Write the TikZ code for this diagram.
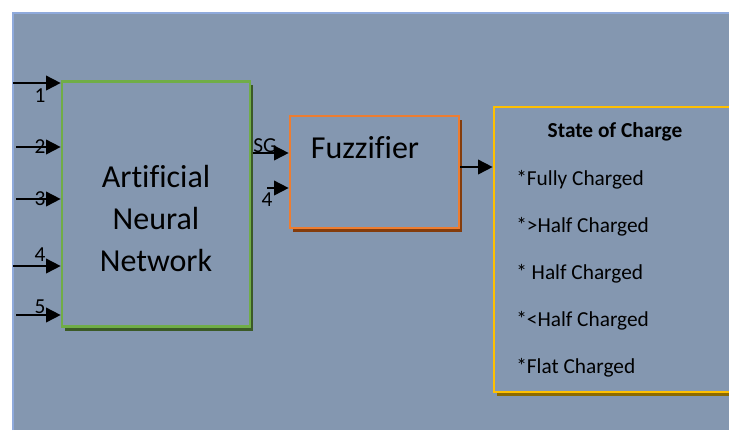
\documentclass[tikz,border=0pt]{standalone}
\usepackage{fontspec}
\setmainfont{Carlito}[Ligatures=NoCommon]
\usetikzlibrary{arrows.meta,shadows}

\definecolor{slate}{HTML}{8497B0}
\definecolor{edgeblue}{HTML}{8FAADC}
\definecolor{annline}{HTML}{70AD47}
\definecolor{anndark}{HTML}{3B5A26}
\definecolor{fuzzline}{HTML}{ED7D31}
\definecolor{fuzzdark}{HTML}{843C0C}
\definecolor{socline}{HTML}{FFC000}
\definecolor{socdark}{HTML}{8C6A00}

\tikzset{
  block/.style={draw,line width=2pt,fill=slate,inner sep=0pt},
  feed/.style={line width=1.3pt,-{Triangle[length=11pt,width=11pt]}},
  num/.style={font=\fontsize{16}{16}\selectfont,inner sep=0pt},
  bigtext/.style={font=\fontsize{24}{31.5}\selectfont,align=center,inner sep=0pt},
  item/.style={anchor=west,font=\fontsize{16}{16}\selectfont,inner sep=0pt},
}

\begin{document}
\begin{tikzpicture}[x=0.75pt,y=-0.75pt]
\useasboundingbox (0,0) rectangle (729,430);
\fill[slate] (13,13) rectangle (729,430);
\draw[edgeblue,line width=1.5pt] (13,430) -- (13,13) -- (729,13);

% blocks
\node[block,draw=annline,minimum width=141pt,minimum height=184pt,
  drop shadow={shadow xshift=2.5pt,shadow yshift=-3pt,fill=anndark,opacity=1}] (ann) at (156,204) {};
\node[block,draw=fuzzline,minimum width=126.75pt,minimum height=84pt,
  drop shadow={shadow xshift=2.5pt,shadow yshift=-3pt,fill=fuzzdark,opacity=1}] (fuzz) at (374.5,172) {};
\node[block,draw=socline,minimum width=177.75pt,minimum height=213.75pt,
  drop shadow={shadow xshift=2.5pt,shadow yshift=-3pt,fill=socdark,opacity=1}] (soc) at (612.5,249.5) {};

\node[bigtext] (anntext) at (156,218) {Artificial\\Neural\\Network};
\node[bigtext] (fuzztext) at (365,148) {Fuzzifier};

% inputs
\coordinate (in1) at (13,83);
\coordinate (in2) at (16,147);
\coordinate (in3) at (16,199);
\coordinate (in4) at (13,266);
\coordinate (in5) at (16,315);
\foreach \i in {1,...,5}
  \draw[feed] (in\i) -- (in\i -| ann.west);
\node[num] (n1) at (40,96) {1};
\node[num] (n2) at (40,147) {2};
\node[num] (n3) at (40,199) {3};
\node[num] (n4) at (40,255) {4};
\node[num] (n5) at (40,307) {5};

% into fuzzifier
\coordinate (sgin) at (253,153);
\coordinate (fourin) at (267,188);
\draw[feed] (sgin) -- (sgin -| fuzz.west);
\draw[feed] (fourin) -- (fourin -| fuzz.west);
\node[num] (sg) at (265,146) {SG};
\node[num] (nf) at (267,200) {4};

% out
\draw[feed] ([yshift=3.75pt]fuzz.east) -- ([yshift=3.75pt]fuzz.east -| soc.west);

% state of charge
\node[font=\bfseries\fontsize{16}{16}\selectfont,inner sep=0pt] (soctitle) at (615,132) {State of Charge};
\foreach \t [count=\k] in {*Fully Charged,*>Half Charged,* Half Charged,*<Half Charged,*Flat Charged}
  \node[item] (s\k) at (516,133+47*\k) {\t};
\end{tikzpicture}
\end{document}
